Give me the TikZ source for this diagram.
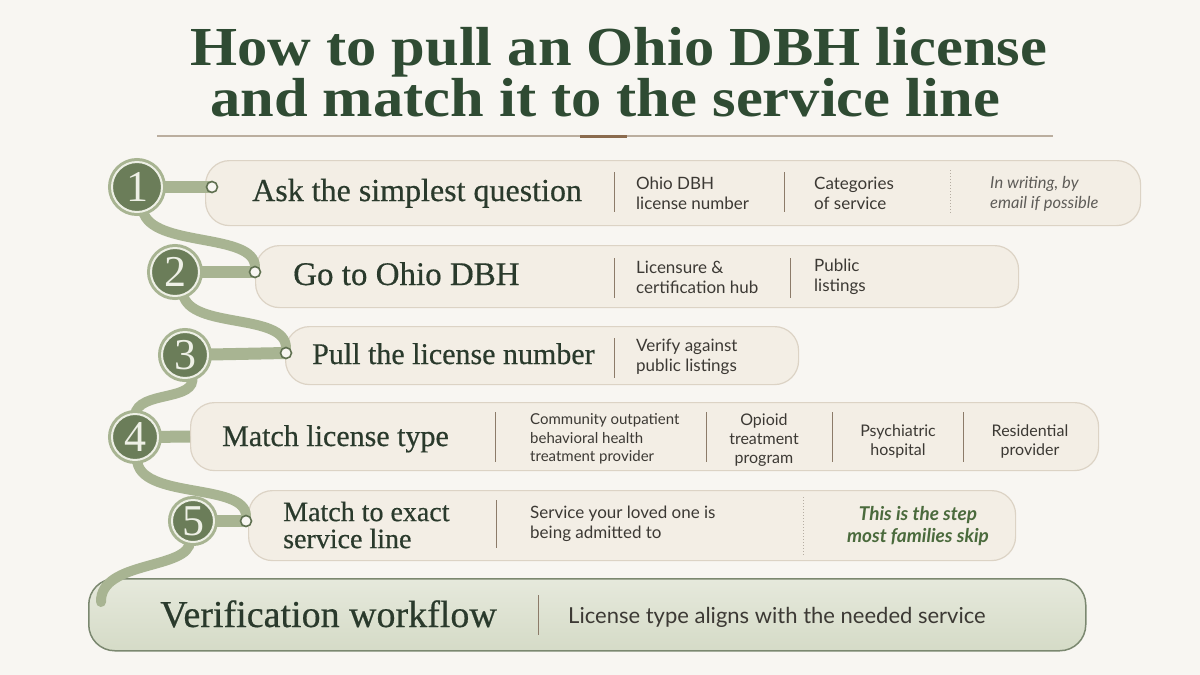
\documentclass[tikz,border=0pt]{standalone}
\usepackage{fontspec}
\setmainfont{Liberation Serif}
\newfontfamily\lato{Lato}
\newfontfamily\titlefont[FakeStretch=1.1]{Liberation Serif}
\newfontfamily\labelfont[FakeBold=0.5]{Liberation Serif}
\usetikzlibrary{calc}
\definecolor{bgc}{HTML}{F8F6F2}
\definecolor{titlegreen}{HTML}{2F4B33}
\definecolor{labeldark}{HTML}{2A3A2C}
\definecolor{bodytxt}{HTML}{3C3934}
\definecolor{graytxt}{HTML}{5E5C58}
\definecolor{accentgreen}{HTML}{4A6A3C}
\definecolor{pillfill}{HTML}{F3EEE5}
\definecolor{pillborder}{HTML}{DCD3C5}
\definecolor{tubec}{HTML}{A8B492}
\definecolor{circfill}{HTML}{6B7D59}
\definecolor{ringline}{HTML}{5F7050}
\definecolor{sepc}{HTML}{8C7B69}
\definecolor{dotc}{HTML}{B5ADA2}
\definecolor{rulec}{HTML}{BBAE9F}
\definecolor{ruleacc}{HTML}{8B6B4E}
\definecolor{veriftop}{HTML}{E6E9DC}
\definecolor{verifbot}{HTML}{D5DBC7}
\definecolor{verifborder}{HTML}{7B8870}
\definecolor{numc}{HTML}{EEF0E6}
\tikzset{
  pill/.style={draw=pillborder, line width=1.2pt, fill=pillfill, rounded corners=24pt, anchor=north west, inner sep=0pt},
  stepc/.style={circle, fill=circfill, draw=numc, line width=2pt, preaction={draw=tubec, line width=8pt},
    text=numc, font=\fontsize{44}{44}\selectfont, inner sep=0pt},
  ringn/.style={circle, minimum size=11pt, fill=bgc, draw=ringline, line width=1.6pt, inner sep=0pt},
  tube/.style={draw=tubec, line width=10pt, line cap=round},
  htube/.style={draw=tubec, line width=12pt},
  lbl/.style={text=labeldark, anchor=base west, inner sep=0pt},
  sans/.style={font=\lato\fontsize{17}{20}\selectfont, text=bodytxt, align=left, anchor=west, inner sep=0pt},
  sansc/.style={font=\lato\fontsize{16}{19}\selectfont, text=bodytxt, align=center, anchor=center, inner sep=0pt},
  sep/.style={draw=sepc, line width=1pt},
  dsep/.style={draw=dotc, line width=1pt, dotted},
}
\begin{document}
\begin{tikzpicture}[x=1pt,y=-1pt]
\fill[bgc] (0,0) rectangle (1200,675);
\useasboundingbox (0,0) rectangle (1200,675);

% title
\node[anchor=base west, inner sep=0pt, text=titlegreen, align=left,
  font=\titlefont\bfseries\fontsize{55}{49}\selectfont] (title) at (190,116)
  {How to pull an Ohio DBH license\\\hspace*{20pt}and match it to the service line};
\draw[rulec, line width=1.3pt] (157,136) -- (1053,136);
\draw[ruleacc, line width=3pt] (580,136) -- (627,136);

% pills
\node[pill, minimum width=935pt, minimum height=65pt] (p1) at (205,160) {};
\node[pill, minimum width=763pt, minimum height=62pt] (p2) at (255,245) {};
\node[pill, minimum width=513pt, minimum height=58pt] (p3) at (285,326) {};
\node[pill, minimum width=908pt, minimum height=68pt] (p4) at (190,402) {};
\node[pill, minimum width=767pt, minimum height=70pt] (p5) at (248,490) {};
\node[draw=verifborder, line width=1.5pt, top color=veriftop, bottom color=verifbot, rounded corners=26pt,
  anchor=north west, minimum width=997pt, minimum height=72pt, inner sep=0pt] (pv) at (88,578) {};

% circle and ring positions
\coordinate (c1) at (137,187);
\coordinate (c2) at (175,272);
\coordinate (c3) at (185,355);
\coordinate (c4) at (135,437);
\coordinate (c5) at (193,521);
\coordinate (vend) at (101,602);

% tubes
\draw[htube] (c1) -- (212,187) coordinate (r1);
\draw[htube] (c2) -- (255,272) coordinate (r2);
\draw[htube] (c3) -- (286,353) coordinate (r3);
\draw[htube] (c4) -- (p4.west);
\draw[htube] (c5) -- (246,521) coordinate (r5);
\draw[tube] ($(c1)+(6,24)$) .. controls (152,248) and (255,232) .. ($(r2)+(0,-5)$);
\draw[tube] ($(c2)+(8,22)$) .. controls (190,330) and (286,312) .. ($(r3)+(0,-5)$);
\draw[tube] ($(c3)+(7,21)$) .. controls (198,402) and (138,390) .. ($(c4)+(0,-22)$);
\draw[tube] ($(c4)+(2,22)$) .. controls (138,500) and (246,482) .. ($(r5)+(0,-5)$);
\draw[tube] ($(c5)+(-3,20)$) .. controls (190,570) and (100,560) .. (vend);

% circles and rings on top
\node[stepc, minimum size=50pt] (n1) at (c1) {1};
\node[stepc, minimum size=48pt] (n2) at (c2) {2};
\node[stepc, minimum size=46pt] (n3) at (c3) {3};
\node[stepc, minimum size=46pt] (n4) at (c4) {4};
\node[stepc, minimum size=42pt] (n5) at (c5) {5};
\node[ringn] (o1) at (r1) {};
\node[ringn] (o2) at (r2) {};
\node[ringn] (o3) at (r3) {};
\node[ringn] (o5) at (r5) {};

% row 1
\node[lbl, font=\labelfont\fontsize{32}{32}\selectfont] (l1) at (252,201) {Ask the simplest question};
\draw[sep] (614,172) -- (614,212);
\node[sans] (s11) at (636,193) {Ohio DBH\\license number};
\draw[sep] (784,172) -- (784,212);
\node[sans] (s12) at (814,193) {Categories\\of service};
\draw[dsep] (950,170) -- (950,215);
\node[sans, text=graytxt, font=\lato\itshape\fontsize{16.5}{20}\selectfont] (s13) at (990,194) {In writing, by\\email if possible};

% row 2
\node[lbl, font=\labelfont\fontsize{33}{33}\selectfont] (l2) at (293,285) {Go to Ohio DBH};
\draw[sep] (614,258) -- (614,298);
\node[sans] (s21) at (636,277) {Licensure \&\\certification hub};
\draw[sep] (790,258) -- (790,298);
\node[sans] (s22) at (814,277) {Public\\listings};

% row 3
\node[lbl, font=\labelfont\fontsize{30}{30}\selectfont] (l3) at (312,364) {Pull the license number};
\draw[sep] (614,338) -- (614,378);
\node[sans] (s31) at (636,357) {Verify against\\public listings};

% row 4
\node[lbl, font=\labelfont\fontsize{30}{30}\selectfont] (l4) at (222,446) {Match license type};
\draw[sep] (495,412) -- (495,462);
\node[sans, font=\lato\fontsize{15}{18.5}\selectfont] (s41) at (530,439) {Community outpatient\\behavioral health\\treatment provider};
\draw[sep] (706,412) -- (706,462);
\node[sansc] (s42) at (764,440) {Opioid\\treatment\\program};
\draw[sep] (832,412) -- (832,462);
\node[sansc] (s43) at (898,441) {Psychiatric\\hospital};
\draw[sep] (963,412) -- (963,462);
\node[sansc] (s44) at (1030,441) {Residential\\provider};

% row 5
\node[text=labeldark, anchor=west, inner sep=0pt, align=left, font=\labelfont\fontsize{28}{27}\selectfont] (l5) at (283,525) {Match to exact\\service line};
\draw[sep] (496,500) -- (496,548);
\node[sans] (s51) at (530,524) {Service your loved one is\\being admitted to};
\draw[dsep] (803,497) -- (803,555);
\node[sansc, text=accentgreen, font=\lato\bfseries\itshape\fontsize{19}{22}\selectfont] (s52) at (918,526) {This is the step\\most families skip};

% verification
\node[lbl, font=\labelfont\fontsize{38}{38}\selectfont] (lv) at (160,627) {Verification workflow};
\draw[sep] (538,595) -- (538,635);
\node[anchor=base west, inner sep=0pt, text=bodytxt, font=\lato\fontsize{22}{22}\selectfont] (sv) at (568,623) {License type aligns with the needed service};
\end{tikzpicture}
\end{document}
